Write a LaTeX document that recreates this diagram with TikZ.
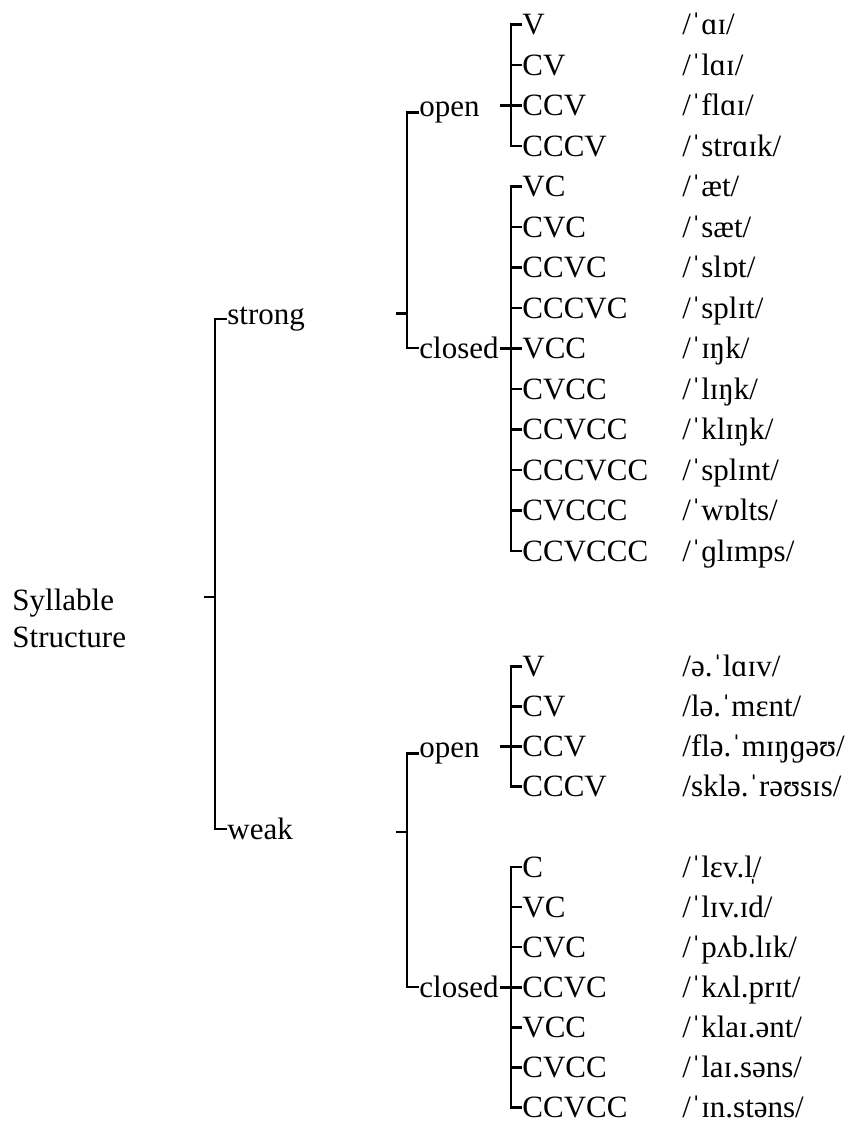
\documentclass[tikz,border=0pt]{standalone}
\usepackage{fontspec}
\setmainfont{Liberation Serif}
\tikzset{lbl/.style = {anchor = mid west,
                       inner sep = 0pt,
                       font = \fontsize{15.5}{18.5}\selectfont},
         brk/.style = {draw,
                       line width = 1.25pt}}

\begin{document}
\begin{tikzpicture}[x=0.5pt, y=-0.5pt]
		\useasboundingbox (0,0) rectangle (866,1128);
		% root and first split
		\node[lbl, anchor = west, align = left] (root) at (12,618) {Syllable\\Structure};
		\node[lbl] (strong) at (227,320) {strong};
		\node[lbl] (weak) at (227,835) {weak};
		\coordinate (rj) at (215,597);
		\draw[brk] (strong.west) -- ++(-12,0) |- (weak.west);
		\draw[brk] (rj) -- ++(-11,0);
		% strong
		\node[lbl] (sop) at (419,112) {open};
		\node[lbl] (scl) at (419,354) {closed};
		\coordinate (sj) at (407,313.5);
		\draw[brk] (sop.west) -- ++(-12,0) |- (scl.west);
		\draw[brk] (sj) -- ++(-11,0);
		\node[lbl] (a1) at (522,30) {V};
		\node[lbl] (a2) at (522,70.5) {CV};
		\node[lbl] (a3) at (522,111) {CCV};
		\node[lbl] (a4) at (522,151.5) {CCCV};
		\node[lbl] (a5) at (522,192) {VC};
		\node[lbl] (a6) at (522,232.5) {CVC};
		\node[lbl] (a7) at (522,273) {CCVC};
		\node[lbl] (a8) at (522,313.5) {CCCVC};
		\node[lbl] (a9) at (522,354) {VCC};
		\node[lbl] (a10) at (522,394.5) {CVCC};
		\node[lbl] (a11) at (522,435) {CCVCC};
		\node[lbl] (a12) at (522,475.5) {CCCVCC};
		\node[lbl] (a13) at (522,516) {CVCCC};
		\node[lbl] (a14) at (522,556.5) {CCVCCC};
		\node[lbl] (pa1) at (682,30) {/ˈɑɪ/};
		\node[lbl] (pa2) at (682,70.5) {/ˈlɑɪ/};
		\node[lbl] (pa3) at (682,111) {/ˈflɑɪ/};
		\node[lbl] (pa4) at (682,151.5) {/ˈstrɑɪk/};
		\node[lbl] (pa5) at (682,192) {/ˈæt/};
		\node[lbl] (pa6) at (682,232.5) {/ˈsæt/};
		\node[lbl] (pa7) at (682,273) {/ˈslɒt/};
		\node[lbl] (pa8) at (682,313.5) {/ˈsplɪt/};
		\node[lbl] (pa9) at (682,354) {/ˈɪŋk/};
		\node[lbl] (pa10) at (682,394.5) {/ˈlɪŋk/};
		\node[lbl] (pa11) at (682,435) {/ˈklɪŋk/};
		\node[lbl] (pa12) at (682,475.5) {/ˈsplɪnt/};
		\node[lbl] (pa13) at (682,516) {/ˈwɒlts/};
		\node[lbl] (pa14) at (682,556.5) {/ˈɡlɪmps/};
		\draw[brk] (a1.west) -- ++(-11,0) |- (a4.west);
		\draw[brk] (a2.west) -- ++(-11,0);
		\draw[brk] (a3.west) -- ++(-22,0);
		\draw[brk] (a5.west) -- ++(-11,0) |- (a14.west);
		\draw[brk] (a6.west) -- ++(-11,0);
		\draw[brk] (a7.west) -- ++(-11,0);
		\draw[brk] (a8.west) -- ++(-11,0);
		\draw[brk] (a9.west) -- ++(-22,0);
		\draw[brk] (a10.west) -- ++(-11,0);
		\draw[brk] (a11.west) -- ++(-11,0);
		\draw[brk] (a12.west) -- ++(-11,0);
		\draw[brk] (a13.west) -- ++(-11,0);
		% weak
		\node[lbl] (wop) at (419,753) {open};
		\node[lbl] (wcl) at (419,993) {closed};
		\coordinate (wj) at (407,832);
		\draw[brk] (wop.west) -- ++(-12,0) |- (wcl.west);
		\draw[brk] (wj) -- ++(-11,0);
		\node[lbl] (b1) at (522,672) {V};
		\node[lbl] (b2) at (522,712) {CV};
		\node[lbl] (b3) at (522,752) {CCV};
		\node[lbl] (b4) at (522,792) {CCCV};
		\node[lbl] (b5) at (522,872.5) {C};
		\node[lbl] (b6) at (522,912.5) {VC};
		\node[lbl] (b7) at (522,952.5) {CVC};
		\node[lbl] (b8) at (522,993) {CCVC};
		\node[lbl] (b9) at (522,1033) {VCC};
		\node[lbl] (b10) at (522,1073) {CVCC};
		\node[lbl] (b11) at (522,1113) {CCVCC};
		\node[lbl] (pb1) at (682,672) {/ə.ˈlɑɪv/};
		\node[lbl] (pb2) at (682,712) {/lə.ˈmɛnt/};
		\node[lbl] (pb3) at (682,752) {/flə.ˈmɪŋɡəʊ/};
		\node[lbl] (pb4) at (682,792) {/sklə.ˈrəʊsɪs/};
		\node[lbl] (pb5) at (682,872.5) {/ˈlɛv.l̩/};
		\node[lbl] (pb6) at (682,912.5) {/ˈlɪv.ɪd/};
		\node[lbl] (pb7) at (682,952.5) {/ˈpʌb.lɪk/};
		\node[lbl] (pb8) at (682,993) {/ˈkʌl.prɪt/};
		\node[lbl] (pb9) at (682,1033) {/ˈklaɪ.ənt/};
		\node[lbl] (pb10) at (682,1073) {/ˈlaɪ.səns/};
		\node[lbl] (pb11) at (682,1113) {/ˈɪn.stəns/};
		\draw[brk] (b1.west) -- ++(-11,0) |- (b4.west);
		\draw[brk] (b2.west) -- ++(-11,0);
		\draw[brk] (b3.west) -- ++(-22,0);
		\draw[brk] (b5.west) -- ++(-11,0) |- (b11.west);
		\draw[brk] (b6.west) -- ++(-11,0);
		\draw[brk] (b7.west) -- ++(-11,0);
		\draw[brk] (b8.west) -- ++(-22,0);
		\draw[brk] (b9.west) -- ++(-11,0);
		\draw[brk] (b10.west) -- ++(-11,0);
	\end{tikzpicture}
\end{document}
